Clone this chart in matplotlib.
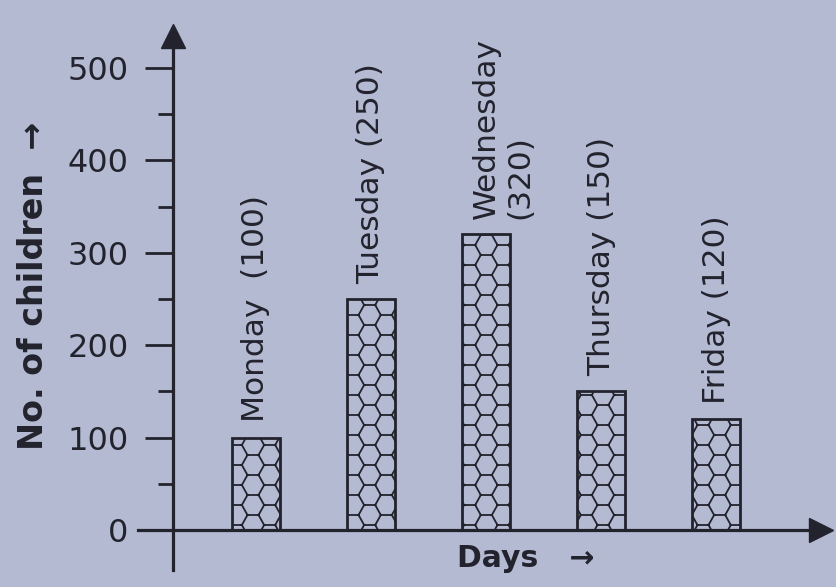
import warnings
import matplotlib
matplotlib.use("Agg")
import matplotlib.pyplot as plt
import matplotlib.hatch as mhatch
from matplotlib.path import Path

# Data
days = ["Monday", "Tuesday", "Wednesday", "Thursday", "Friday"]
children = [100, 250, 320, 150, 120]
label_gaps = ["  ", " ", "\n", " ", " "]
y_ticks = [0, 100, 200, 300, 400, 500]
y_minor_ticks = [50, 150, 250, 350, 450]

BG = "#b3bad2"
INK = "#23232e"


class HoneycombHatch(mhatch.HatchPatternBase):
    """Flat-topped hexagon tiling used with the hatch character 'h'.

    Every cell contributes three separate edge segments (top, upper-right,
    lower-right); together they outline the whole honeycomb without any
    closed shapes that the renderer would fill.
    """
    rows = 5      # hexagon rows per hatch tile
    pairs = 3     # pairs of offset columns per hatch tile

    def __init__(self, hatch, density):
        self.active = "h" in hatch
        self.h = 1.0 / self.rows
        pitch = 1.0 / (2 * self.pairs)
        self.s = pitch / 1.5
        self.cells = []
        for k in range(-1, 2 * self.pairs + 1):
            for j in range(-1, self.rows + 1):
                cx = k * pitch + 0.03
                cy = (j + 0.25 + 0.5 * (k % 2)) * self.h
                self.cells.append((cx, cy))
        self.num_vertices = 6 * len(self.cells) if self.active else 0

    def set_vertices_and_codes(self, vertices, codes):
        s, h = self.s, self.h
        for i, (cx, cy) in enumerate(self.cells):
            pts = [(cx - s / 2, cy + h / 2), (cx + s / 2, cy + h / 2),
                   (cx + s / 2, cy + h / 2), (cx + s, cy),
                   (cx + s, cy), (cx + s / 2, cy - h / 2)]
            vertices[6 * i:6 * i + 6] = pts
            codes[6 * i:6 * i + 6:2] = Path.MOVETO
            codes[6 * i + 1:6 * i + 6:2] = Path.LINETO


mhatch._hatch_types.append(HoneycombHatch)
warnings.filterwarnings("ignore", message=".*hatch.*")

plt.rcParams["font.family"] = ["DejaVu Sans"]
plt.rcParams["hatch.linewidth"] = 1.3

fig = plt.figure(figsize=(8.37, 5.87), dpi=100, facecolor=BG)
ax = fig.add_axes([0, 0, 1, 1], facecolor=BG)

x = list(range(len(days)))
ax.bar(x, children, width=0.417, facecolor=BG, edgecolor=INK,
       linewidth=2.0, hatch="h", zorder=2)

for i, (day, n, gap) in enumerate(zip(days, children, label_gaps)):
    ax.annotate(f"{day}{gap}({n})", xy=(i, n), xytext=(-10.5, 11),
                textcoords="offset points", rotation=90,
                rotation_mode="anchor", ha="left", va="top",
                fontsize=22.5, color=INK)

ax.set_xlim(-2.224, 5.048)
ax.set_ylim(-61.7, 573.6)

# Axes drawn as arrows crossing at the origin
for side in ("top", "right"):
    ax.spines[side].set_visible(False)
ax.spines["left"].set_position(("data", -0.721))
ax.spines["left"].set_bounds(-43, 540)
ax.spines["bottom"].set_position(("data", 0))
ax.spines["bottom"].set_bounds(-1.025, 4.9)
for side in ("left", "bottom"):
    ax.spines[side].set_linewidth(2.3)
    ax.spines[side].set_color(INK)
    ax.spines[side].set_zorder(3)
ax.plot([-0.721], [534.6], marker="^", markersize=17, color=INK,
        clip_on=False, zorder=4)
ax.plot([4.913], [0], marker=">", markersize=17, color=INK,
        clip_on=False, zorder=4)

ax.set_xticks([])
ax.set_yticks(y_ticks)
ax.set_yticks(y_minor_ticks, minor=True)
ax.tick_params(axis="y", which="major", direction="out", length=20,
               width=2.0, pad=12, labelsize=23, color=INK, labelcolor=INK)
ax.tick_params(axis="y", which="minor", direction="out", length=11,
               width=2.0, color=INK)

ax.set_ylabel("No. of children  \u2192", fontsize=24, fontweight="bold",
              color=INK)
ax.yaxis.set_label_coords(0.06, 0.513)
ax.set_xlabel("Days   \u2192", fontsize=21.5, fontweight="bold", color=INK)
ax.xaxis.set_label_coords(0.628, 0.0733)

fig.savefig("out.png", dpi=100, facecolor=BG)
